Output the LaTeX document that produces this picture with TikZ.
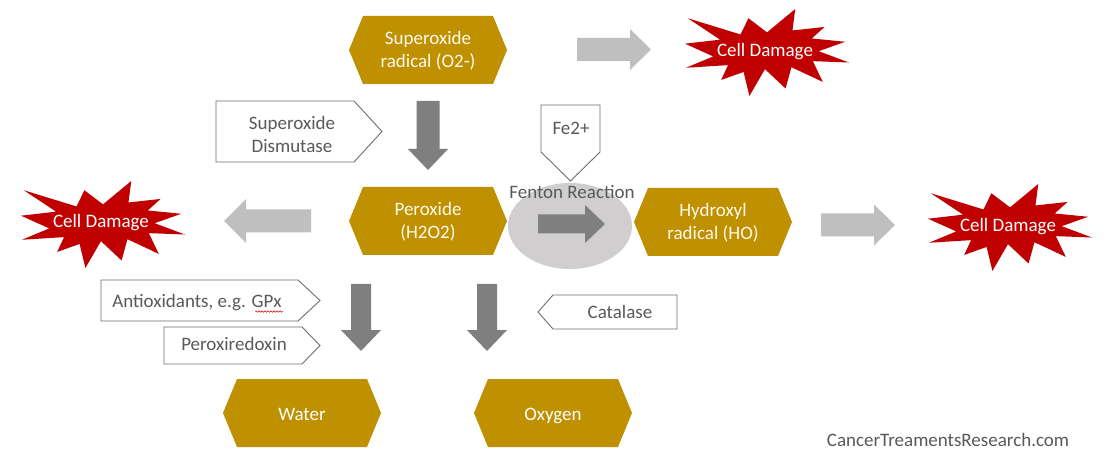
\documentclass[tikz,border=0pt]{standalone}
\usepackage{fontspec}
\setmainfont{Carlito}
\usetikzlibrary{decorations.pathmorphing}
\definecolor{goldfill}{HTML}{BF9000}
\definecolor{darkarrow}{HTML}{7F7F7F}
\definecolor{lightarrow}{HTML}{BFBFBF}
\definecolor{fentonfill}{HTML}{D0CECE}
\definecolor{starred}{HTML}{C00000}
\definecolor{labelgray}{HTML}{595959}
\definecolor{edgegray}{HTML}{6E6E6E}
\definecolor{hexwhite}{HTML}{FFFAEE}

\newcommand\goldhex[4]{%
  \fill[goldfill] ({#2-79},#3) -- ({#2-65},{#3-34}) -- ({#2+65},{#3-34}) -- ({#2+79},#3)
     -- ({#2+65},{#3+34}) -- ({#2-65},{#3+34}) -- cycle;
  \node[hextext] (#1) at (#2,{#3+1}) {#4};}

\newcommand\blockarrow[7]{%
  \begin{scope}[shift={#2},rotate=#3]
    \fill[#1] (0,{-#5}) -- ({#4-#7},{-#5}) -- ({#4-#7},{-#6}) -- (#4,0)
      -- ({#4-#7},#6) -- ({#4-#7},#5) -- (0,#5) -- cycle;
  \end{scope}}

\newcommand\explosion[5]{%
  \begin{scope}[shift={(#2,#3)},x=164pt,y=-87pt]
    \fill[starred] (0.5,0.2685) -- (0.6723,0) -- (0.6553,0.2465) -- (0.8509,0.2063)
      -- (0.7732,0.3387) -- (0.9767,0.3767) -- (0.8151,0.4850) -- (1,0.6153)
      -- (0.7795,0.5992) -- (0.8400,0.8377) -- (0.6491,0.6693) -- (0.6133,0.9138)
      -- (0.4876,0.6914) -- (0.3928,1) -- (0.3572,0.7235) -- (0.2205,0.8156)
      -- (0.2624,0.6452) -- (0.00625,0.6753) -- (0.1723,0.5451) -- (0,0.3988)
      -- (0.2142,0.3526) -- (0.0171,0.1063) -- (0.3385,0.2926) -- (0.3867,0.1063) -- cycle;
  \end{scope}
  \node[startext] (#1) at (#4,#5) {Cell Damage};}

\begin{document}
\begin{tikzpicture}[x=1pt,y=-1pt,
  every node/.style={font=\fontsize{19}{23}\selectfont, inner sep=0pt},
  hextext/.style={text=hexwhite, align=center},
  labeltext/.style={text=labelgray, align=center},
  basetext/.style={text=labelgray, anchor=base},
  startext/.style={text=white, anchor=base},
  tagbox/.style={draw=edgegray, line width=0.9pt, fill=white, line join=miter}]

\useasboundingbox (0,0) rectangle (1116,470);
\fill[white] (0,0) rectangle (1116,470);

% Fenton ellipse
\fill[fentonfill] (570,226) ellipse [x radius=62, y radius=43];

% gold hexagons
\goldhex{sup}{428}{50}{Superoxide\\radical (O2-)}
\goldhex{per}{428}{221}{Peroxide\\(H2O2)}
\goldhex{hyd}{713}{222}{Hydroxyl\\radical (HO)}
\goldhex{wat}{302}{413}{}
\goldhex{oxy}{553}{413}{}
\node[startext] (watt) at (302,420) {Water};
\node[startext] (oxyt) at (553,420) {Oxygen};

% block arrows
\blockarrow{lightarrow}{(577,49.5)}{0}{74}{11.5}{20.5}{21}
\blockarrow{darkarrow}{(428,101)}{-90}{69}{11.5}{20}{21}
\blockarrow{lightarrow}{(311,221)}{180}{87}{11.5}{22}{22}
\blockarrow{darkarrow}{(538,224)}{0}{67}{9.5}{19}{20}
\blockarrow{lightarrow}{(821,225)}{0}{74}{11.5}{20.5}{21}
\blockarrow{darkarrow}{(361,284)}{-90}{67}{10}{20}{21}
\blockarrow{darkarrow}{(487,284)}{-90}{67}{10}{20}{21}

% tag boxes
\draw[tagbox] (216,101) -- (354,101) -- (382,131.5) -- (354,162) -- (216,162) -- cycle;
\node[labeltext] (sod) at (292,134) {Superoxide\\Dismutase};

\draw[tagbox] (101,280) -- (298,280) -- (320,300.5) -- (298,321) -- (101,321) -- cycle;
\node[basetext] (gpx) at (197,307) {Antioxidants, e.g. GPx};
\draw[red!80!black, line width=0.5pt, decorate,
  decoration={snake, amplitude=0.8pt, segment length=3pt}] (255,311.5) -- (283,311.5);

\draw[tagbox] (164,327) -- (302,327) -- (320,345.5) -- (302,364) -- (164,364) -- cycle;
\node[basetext] (prx) at (234,350) {Peroxiredoxin};

\draw[tagbox] (541,105) -- (600,105) -- (600,152) -- (570.5,181) -- (541,152) -- cycle;
\node[basetext] (fe) at (571,135) {Fe2+};

\draw[tagbox] (677,295) -- (553,295) -- (538,312) -- (553,329) -- (677,329) -- cycle;
\node[basetext] (cat) at (620,319) {Catalase};

\node[basetext] (fenton) at (572,199) {Fenton Reaction};

% explosions
\explosion{cd1}{685}{9}{765}{57}
\explosion{cd2}{21}{181}{101}{228}
\explosion{cd3}{928}{184}{1008}{232}

% watermark
\node[basetext] (wm) at (948,446) {CancerTreamentsResearch.com};
\end{tikzpicture}
\end{document}
